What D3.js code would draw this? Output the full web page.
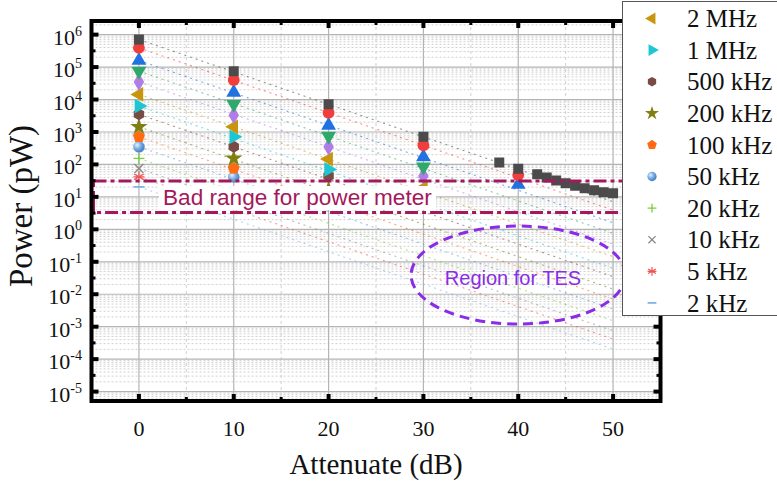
<!DOCTYPE html>
<html><head><meta charset="utf-8">
<script src="https://cdn.jsdelivr.net/npm/d3@7"></script>
<style>
html,body{margin:0;padding:0;background:#fff;}
svg{display:block;}
</style></head>
<body>
<svg id="chart" width="777" height="486"></svg>
<script>
// ---------------- data ----------------
const seriesNames = ["100 MHz","50 MHz","20 MHz","10 MHz","5 MHz","2 MHz","1 MHz","500 kHz","200 kHz","100 kHz","50 kHz","20 kHz","10 kHz","5 kHz","2 kHz"];
const legendNames = ["2 MHz","1 MHz","500 kHz","200 kHz","100 kHz","50 kHz","20 kHz","10 kHz","5 kHz","2 kHz"];
const attenuations = [0, 10, 20, 30, 40];
// measured power (pW) per attenuation, listed from the top series downwards
const power0  = [7.1e5, 3.9e5, 1.6e5, 7.5e4, 3.5e4, 1.44e4, 6.3e3, 3.5e3, 1.44e3, 710, 350, 153, 75, 41.5, 20.4];
const power10 = [7.5e4, 4.0e4, 1.66e4, 7.2e3, 3.3e3, 1.44e3, 710, 350, 153, 75, 41];
const power20 = [7.2e3, 3.9e3, 1.6e3, 745, 350, 146, 70, 44, 17];
const power30 = [710, 390, 171, 84, 44, 19];
const power40 = [74, 47, 24];
// fine attenuation sweep of the top series
const sweepAtten = [38, 42, 43, 44, 45, 46, 47, 48, 49, 50];
const sweepPower = [114, 50, 39.4, 31.9, 26.5, 22.2, 18.6, 15.9, 14.0, 12.9];
// extrapolation lines (value at 0 dB and at 50 dB)
const fitAtten = [0, 50];
const fitStart = [7.1e5, 3.9e5, 1.6e5, 7.5e4, 3.5e4, 1.44e4, 6.3e3, 3.5e3, 1.44e3, 710, 350, 153, 75, 41.5, 20.4];
const fitEnd   = [7.1, 3.9, 1.6, 0.75, 0.35, 0.144, 0.063, 0.035, 0.0144, 0.0071, 0.0035, 0.00153, 0.00075, 0.000415, 0.000204];
// axis ticks
const xTicks = [0, 10, 20, 30, 40, 50];
const xMinorTicks = [5, 15, 25, 35, 45];
const yTickExps = [-5,-4,-3,-2,-1,0,1,2,3,4,5,6];
// annotations (data coordinates)
const badRange = [3.3, 31];           // pW
const tesRegion = {cx: 40, cy: 0.039, halfWidthDb: 11.3, halfHeightDecades: 1.51};

// ---------------- styles ----------------
const colors = ["#4b4b4b","#f23d3d","#2271e0","#2fa86b","#b27ce6","#c9950c","#1dc6d0","#7a4a44","#7f7f12","#ff6a12","#5f97d6","#7ccd3c","#8a8a8a","#f05454","#80b2ea"];
const shapes = ["square","circle","up","down","diamond","left","right","hex","star","pent","sphere","plus","x","ast","dash"];

const svg = d3.select("#chart");
const W = 777, H = 486;
const x = d3.scaleLinear().domain([-5, 55]).range([91.5, 660.5]);
const y = d3.scaleLog().domain([Math.pow(10,-5.29), Math.pow(10,6.42)]).range([401, 21]);
const L = x.range()[0], R = x.range()[1], T = y.range()[1], B = y.range()[0];

const defs = svg.append("defs");
defs.append("clipPath").attr("id","plotclip").append("rect")
  .attr("x",L).attr("y",T).attr("width",R-L).attr("height",B-T);
const grad = defs.append("radialGradient").attr("id","sphere").attr("cx","35%").attr("cy","35%").attr("r","70%");
grad.append("stop").attr("offset","0%").attr("stop-color","#e8f2fc");
grad.append("stop").attr("offset","45%").attr("stop-color","#7fb0e4");
grad.append("stop").attr("offset","100%").attr("stop-color","#3f78c0");

// ---------------- grid ----------------
const grid = svg.append("g").attr("clip-path","url(#plotclip)");
const minorY = [];
for (let e = -6; e <= 6; e++) for (let m = 2; m <= 9; m++) minorY.push(m*Math.pow(10,e));
grid.selectAll(".mny").data(minorY).join("line")
  .attr("x1",L).attr("x2",R).attr("y1",d=>y(d)).attr("y2",d=>y(d))
  .attr("stroke","#d0d0d0").attr("stroke-width",1).attr("stroke-dasharray","2,2");
grid.selectAll(".mnx").data(xMinorTicks).join("line")
  .attr("x1",d=>x(d)).attr("x2",d=>x(d)).attr("y1",T).attr("y2",B)
  .attr("stroke","#d0d0d0").attr("stroke-width",1).attr("stroke-dasharray","3,3");
grid.selectAll(".mjy").data(yTickExps).join("line")
  .attr("x1",L).attr("x2",R).attr("y1",d=>y(Math.pow(10,d))).attr("y2",d=>y(Math.pow(10,d)))
  .attr("stroke","#b4b4b4").attr("stroke-width",1.2);
grid.selectAll(".mjx").data(xTicks).join("line")
  .attr("x1",d=>x(d)).attr("x2",d=>x(d)).attr("y1",T).attr("y2",B)
  .attr("stroke","#b4b4b4").attr("stroke-width",1.2);

// ---------------- fit lines ----------------
const plot = svg.append("g").attr("clip-path","url(#plotclip)");
fitStart.forEach((v,i)=>{
  plot.append("line")
    .attr("x1",x(fitAtten[0])).attr("y1",y(v))
    .attr("x2",x(fitAtten[1])).attr("y2",y(fitEnd[i]))
    .attr("stroke",colors[i]).attr("stroke-opacity",0.6).attr("stroke-width",1.1)
    .attr("stroke-dasharray","2,4");
});

// ---------------- markers ----------------
function poly(n, r, rot){
  const p=[]; for(let k=0;k<n;k++){const a=rot+2*Math.PI*k/n; p.push([r*Math.sin(a), -r*Math.cos(a)]);}
  return "M"+p.map(q=>q[0].toFixed(2)+","+q[1].toFixed(2)).join("L")+"Z";
}
function drawMarker(g, shape, color, s){
  const sym = (type, size, rot)=> g.append("path").attr("d", d3.symbol().type(type).size(size*s*s)())
      .attr("transform", rot?`rotate(${rot})`:null).attr("fill",color);
  switch(shape){
    case "square": sym(d3.symbolSquare, 100); break;
    case "circle": sym(d3.symbolCircle, 110); break;
    case "up": sym(d3.symbolTriangle, 95); break;
    case "down": sym(d3.symbolTriangle, 95, 180); break;
    case "diamond": sym(d3.symbolDiamond, 95); break;
    case "left": sym(d3.symbolTriangle, 95, -90); break;
    case "right": sym(d3.symbolTriangle, 95, 90); break;
    case "hex": g.append("path").attr("d", poly(6, 6*s, 0)).attr("fill",color); break;
    case "star": sym(d3.symbolStar, 95); break;
    case "pent": g.append("path").attr("d", poly(5, 6.3*s, 0)).attr("fill",color); break;
    case "sphere": g.append("circle").attr("r",5.8*s).attr("fill","url(#sphere)"); break;
    case "plus": g.append("path").attr("d",`M${-5.5*s},0H${5.5*s}M0,${-5.5*s}V${5.5*s}`).attr("stroke",color).attr("stroke-width",1.3).attr("fill","none"); break;
    case "x": g.append("path").attr("d",`M${-4.5*s},${-4.5*s}L${4.5*s},${4.5*s}M${-4.5*s},${4.5*s}L${4.5*s},${-4.5*s}`).attr("stroke",color).attr("stroke-width",1.3).attr("fill","none"); break;
    case "ast": g.append("path").attr("d",`M0,${-5.5*s}V${5.5*s}M${-4.8*s},${-2.8*s}L${4.8*s},${2.8*s}M${-4.8*s},${2.8*s}L${4.8*s},${-2.8*s}M${-5.5*s},0H${5.5*s}`).attr("stroke",color).attr("stroke-width",1.2).attr("fill","none"); break;
    case "dash": g.append("path").attr("d",`M${-5.5*s},0H${5.5*s}`).attr("stroke",color).attr("stroke-width",1.8).attr("fill","none"); break;
  }
}
const powerByAtten = [power0, power10, power20, power30, power40];
const points = [];
powerByAtten.forEach((arr, j)=> arr.forEach((v,i)=> points.push({a: attenuations[j], p: v, s: i})));
sweepAtten.forEach((a,k)=> points.push({a: a, p: sweepPower[k], s: 0}));

const mk = plot.append("g");
points.slice().sort((p,q)=>q.s-p.s).forEach(d=>{
  const g = mk.append("g").attr("transform",`translate(${x(d.a)},${y(d.p)})`);
  drawMarker(g, shapes[d.s], colors[d.s], 1);
});

// ---------------- bad range band ----------------
const badCol = "#a4185c";
plot.append("rect")
  .attr("x", L+2).attr("y", y(badRange[1]))
  .attr("width", R-L+40).attr("height", y(badRange[0]) - y(badRange[1]))
  .attr("fill","none").attr("stroke",badCol).attr("stroke-width",3)
  .attr("stroke-dasharray","13,4,4,4");
plot.append("rect").attr("x",159).attr("y",186).attr("width",277).attr("height",24).attr("fill","#fff");
svg.append("text").attr("x",163).attr("y",205)
  .attr("font-family","Liberation Sans, Arial, sans-serif").attr("font-size",22.6)
  .attr("fill",badCol).text("Bad range for power meter");

// ---------------- TES region ----------------
const tesCol = "#8a2be8";
const ecx = x(tesRegion.cx), ecy = y(tesRegion.cy);
const erx = x(tesRegion.cx + tesRegion.halfWidthDb) - ecx;
const ery = y(tesRegion.cy / Math.pow(10, tesRegion.halfHeightDecades)) - ecy;
svg.append("ellipse").attr("cx",ecx).attr("cy",ecy).attr("rx",erx).attr("ry",ery)
  .attr("fill","none").attr("stroke",tesCol).attr("stroke-width",3).attr("stroke-dasharray","10,6");
svg.append("text").attr("x",513).attr("y",285).attr("text-anchor","middle")
  .attr("font-family","Liberation Sans, Arial, sans-serif").attr("font-size",20)
  .attr("fill",tesCol).text("Region for TES");

// ---------------- frame and ticks ----------------
const ax = svg.append("g");
ax.append("rect").attr("x",L).attr("y",T).attr("width",R-L).attr("height",B-T)
  .attr("fill","none").attr("stroke","#000").attr("stroke-width",4);
const tk = (x1,y1,x2,y2,w)=> ax.append("line").attr("x1",x1).attr("y1",y1).attr("x2",x2).attr("y2",y2).attr("stroke","#000").attr("stroke-width",w);
xTicks.forEach(v=>{ tk(x(v),B,x(v),B-7,4); tk(x(v),T,x(v),T+7,4); });
xMinorTicks.forEach(v=>{ tk(x(v),B,x(v),B-4,3); tk(x(v),T,x(v),T+4,3); });
yTickExps.forEach(e=>{ const yy=y(Math.pow(10,e)); tk(L,yy,L+7,yy,4); tk(R,yy,R-7,yy,4);
  const ym=y(Math.pow(10,e+0.5)); if (ym>T+3) { tk(L,ym,L+4,ym,3); tk(R,ym,R-4,ym,3);} });

const serif = "Liberation Serif, Times New Roman, serif";
ax.selectAll(".xl").data(xTicks).join("text")
  .attr("x",d=>x(d)).attr("y",436).attr("text-anchor","middle")
  .attr("font-family",serif).attr("font-size",22).attr("fill","#111").text(d=>d);
yTickExps.forEach(e=>{
  const t = ax.append("text").attr("x",82).attr("y",y(Math.pow(10,e))+10).attr("text-anchor","end")
    .attr("font-family",serif).attr("font-size",22).attr("fill","#111");
  t.append("tspan").text("10");
  t.append("tspan").attr("dy",-9).attr("font-size",14).text(e);
});
ax.append("text").attr("x",376).attr("y",474).attr("text-anchor","middle")
  .attr("font-family",serif).attr("font-size",29).attr("fill","#111").text("Attenuate (dB)");
ax.append("text").attr("transform","translate(32,206) rotate(-90)").attr("text-anchor","middle")
  .attr("font-family",serif).attr("font-size",33).attr("fill","#111").text("Power (pW)");

// ---------------- legend ----------------
const lg = svg.append("g");
lg.append("rect").attr("x",622.5).attr("y",1.5).attr("width",170).attr("height",314)
  .attr("fill","#fff").attr("stroke","#555").attr("stroke-width",1);
legendNames.forEach((name,k)=>{
  const si = seriesNames.indexOf(name);
  const yy = 18.5 + k*31.6;
  const g = lg.append("g").attr("transform",`translate(652,${yy})`);
  drawMarker(g, shapes[si], colors[si], 0.8);
  lg.append("text").attr("x",687).attr("y",yy).attr("dy","0.35em")
    .attr("font-family",serif).attr("font-size",25).attr("fill","#111").text(name);
});
</script>
</body></html>
